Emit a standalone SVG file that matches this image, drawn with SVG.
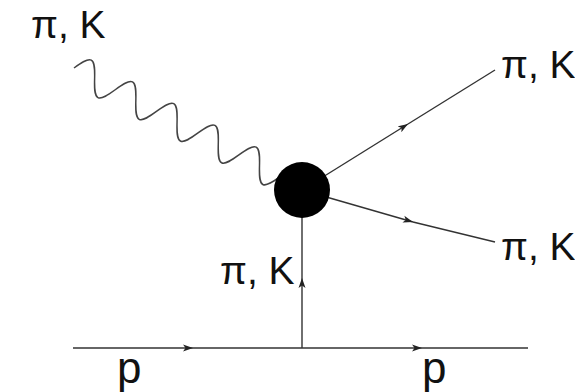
<svg xmlns="http://www.w3.org/2000/svg" width="575" height="392" viewBox="0 0 575 392">
  <style>
    .lbl { font-family: "Liberation Sans", Arial, sans-serif; font-size: 39px; fill: #111; }
    .p { font-size: 44px; }
    .ln { fill: none; stroke: #333; stroke-width: 1.4; }
    .wave { fill: none; stroke: #444; stroke-width: 1.5; }
  </style>
  <defs>
    <marker id="arr" markerUnits="userSpaceOnUse" markerWidth="12" markerHeight="8" refX="10" refY="4" orient="auto">
      <path d="M0,0.5 L10,4 L0,7.5 L2.5,4 Z" fill="#222"/>
    </marker>
  </defs>
  <rect width="575" height="392" fill="#fff"/>

  <g id="connectors">
    <path class="wave" transform="translate(74,68) rotate(27.8)" d="M0,0 c3.8,-7.68 7.43,-15 11.65,-15 c4.22,0 7.85,7.32 11.65,15 c3.8,7.68 7.43,15 11.65,15 c4.22,0 7.85,-7.32 11.65,-15 c3.8,-7.68 7.43,-15 11.65,-15 c4.22,0 7.85,7.32 11.65,15 c3.8,7.68 7.43,15 11.65,15 c4.22,0 7.85,-7.32 11.65,-15 c3.8,-7.68 7.43,-15 11.65,-15 c4.22,0 7.85,7.32 11.65,15 c3.8,7.68 7.43,15 11.65,15 c4.22,0 7.85,-7.32 11.65,-15 c3.8,-7.68 7.43,-15 11.65,-15 c4.22,0 7.85,7.32 11.65,15 c3.8,7.68 7.43,15 11.65,15 c4.22,0 7.85,-7.32 11.65,-15 c3.8,-7.68 7.43,-15 11.65,-15 c4.22,0 7.85,7.32 11.65,15 c3.8,7.68 7.43,15 11.65,15 c4.22,0 7.85,-7.32 11.65,-15"/>
    <line class="ln" x1="302" y1="190" x2="408" y2="124" marker-end="url(#arr)"/>
    <line class="ln" x1="408" y1="124" x2="495" y2="70"/>
    <line class="ln" x1="302" y1="190" x2="413" y2="222" marker-end="url(#arr)"/>
    <line class="ln" x1="413" y1="222" x2="495" y2="242"/>
    <line class="ln" x1="302" y1="348" x2="302" y2="278" marker-end="url(#arr)"/>
    <line class="ln" x1="302" y1="278" x2="302" y2="215"/>
    <line class="ln" x1="73" y1="348" x2="193" y2="348" marker-end="url(#arr)"/>
    <line class="ln" x1="193" y1="348" x2="422" y2="348" marker-end="url(#arr)"/>
    <line class="ln" x1="422" y1="348" x2="528" y2="348"/>
  </g>

  <g id="blob">
    <circle cx="302" cy="190" r="28" fill="#000"/>
  </g>

  <g id="label-in">
    <text class="lbl" x="31" y="38">π, K</text>
  </g>
  <g id="label-out1">
    <text class="lbl" x="501" y="78">π, K</text>
  </g>
  <g id="label-out2">
    <text class="lbl" x="501" y="260">π, K</text>
  </g>
  <g id="label-exchange">
    <text class="lbl" x="220" y="284">π, K</text>
  </g>
  <g id="label-p-in">
    <text class="lbl p" x="117" y="383">p</text>
  </g>
  <g id="label-p-out">
    <text class="lbl p" x="422" y="383">p</text>
  </g>
</svg>
